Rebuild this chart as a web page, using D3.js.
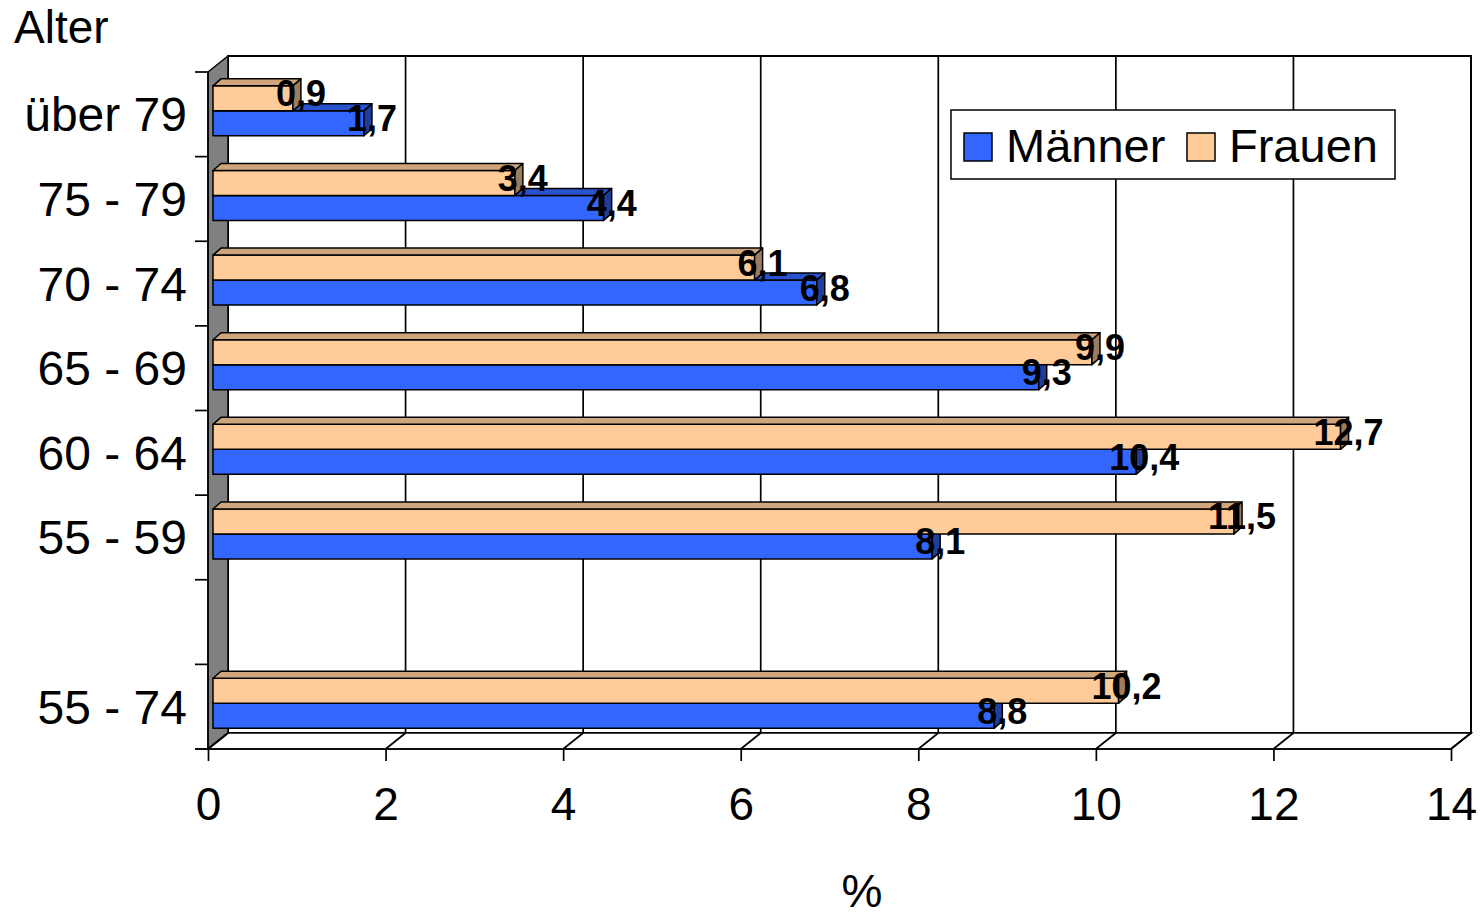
<!DOCTYPE html>
<html>
<head>
<meta charset="utf-8">
<script src="https://cdn.jsdelivr.net/npm/d3@7"></script>
<style>
  body { margin: 0; background: #fff; }
  svg { display: block; font-family: Arial, "Liberation Sans", sans-serif; }
</style>
</head>
<body>
<svg id="chart"></svg>
<script>
// data (top to bottom), empty row is the gap before 55 - 74
const ageGroups = ["über 79", "75 - 79", "70 - 74", "65 - 69", "60 - 64", "55 - 59", "", "55 - 74"];
const maenner = [1.7, 4.4, 6.8, 9.3, 10.4, 8.1, null, 8.8];
const frauen = [0.9, 3.4, 6.1, 9.9, 12.7, 11.5, null, 10.2];
const xTicks = [0, 2, 4, 6, 8, 10, 12, 14];
const seriesNames = ["Männer", "Frauen"];
const seriesColors = ["#3366ff", "#ffcc99"];

class Bar3D {
  constructor(_config) {
    this.config = {
      parentElement: _config.parentElement,
      containerWidth: _config.containerWidth || 1483,
      containerHeight: _config.containerHeight || 916,
      plot: { left: 208, right: 1451, top: 72, bottom: 749 },
      depth: { dx: 20, dy: -16 },       // wall depth
      barShift: { dx: 5, dy: -3.5 },    // front face of bars
      barDepth: { dx: 8, dy: -7 }
    };
    this.initVis();
  }

  initVis() {
    let vis = this;
    const c = vis.config;

    vis.svg = d3.select(c.parentElement)
      .attr('width', c.containerWidth)
      .attr('height', c.containerHeight);

    vis.xScale = d3.scaleLinear()
      .domain([0, 14])
      .range([c.plot.left, c.plot.right]);

    vis.yScale = d3.scaleBand()
      .domain(d3.range(ageGroups.length))
      .range([c.plot.top, c.plot.bottom])
      .paddingInner(0.41)
      .paddingOuter(0.205);

    vis.ySub = d3.scaleBand()
      .domain(["Frauen", "Männer"])
      .range([0, vis.yScale.bandwidth()]);

    vis.color = d3.scaleOrdinal().domain(seriesNames).range(seriesColors);

    vis.updateVis();
  }

  updateVis() {
    let vis = this;
    const c = vis.config;
    const D = c.depth;
    const pts = a => a.map(p => p.join(',')).join(' ');
    const x0 = c.plot.left, x1 = c.plot.right, yT = c.plot.top, yB = c.plot.bottom;

    // back wall
    vis.svg.append('rect')
      .attr('x', x0 + D.dx)
      .attr('y', yT + D.dy)
      .attr('width', x1 - x0)
      .attr('height', yB - yT)
      .attr('fill', '#fff')
      .attr('stroke', '#000')
      .attr('stroke-width', 2);

    // grid lines on back wall
    vis.svg.append('g')
      .selectAll('line')
      .data(xTicks.filter(d => d > 0 && d < 14))
      .join('line')
      .attr('x1', d => vis.xScale(d) + D.dx)
      .attr('x2', d => vis.xScale(d) + D.dx)
      .attr('y1', yT + D.dy)
      .attr('y2', yB + D.dy)
      .attr('stroke', '#000')
      .attr('stroke-width', 1.7);

    // left wall
    vis.svg.append('polygon')
      .attr('points', pts([[x0, yT], [x0 + D.dx, yT + D.dy], [x0 + D.dx, yB + D.dy], [x0, yB]]))
      .attr('fill', '#808080')
      .attr('stroke', '#000')
      .attr('stroke-width', 1.5);

    // floor
    vis.svg.append('polygon')
      .attr('points', pts([[x0, yB], [x0 + D.dx, yB + D.dy], [x1 + D.dx, yB + D.dy], [x1, yB]]))
      .attr('fill', '#fff')
      .attr('stroke', '#000')
      .attr('stroke-width', 1.7);

    vis.svg.append('g')
      .selectAll('line')
      .data(xTicks)
      .join('line')
      .attr('x1', d => vis.xScale(d))
      .attr('y1', yB)
      .attr('x2', d => vis.xScale(d) + D.dx)
      .attr('y2', yB + D.dy)
      .attr('stroke', '#000')
      .attr('stroke-width', 1.7);

    // x axis
    vis.xAxis = d3.axisBottom(vis.xScale)
      .tickValues(xTicks)
      .tickSize(12)
      .tickSizeOuter(0)
      .tickPadding(26)
      .tickFormat(d3.format('d'));

    vis.xAxisGroup = vis.svg.append('g')
      .attr('class', 'axis x-axis')
      .attr('transform', `translate(0,${yB})`)
      .call(vis.xAxis);
    vis.xAxisGroup.select('.domain').remove();
    vis.xAxisGroup.selectAll('line').attr('stroke', '#000').attr('stroke-width', 1.7);
    vis.xAxisGroup.selectAll('text')
      .attr('fill', '#000')
      .style('font-family', 'Arial, "Liberation Sans", sans-serif')
      .style('font-size', '46px');

    vis.svg.append('line')
      .attr('x1', x0 - 13).attr('x2', x1)
      .attr('y1', yB).attr('y2', yB)
      .attr('stroke', '#000').attr('stroke-width', 1.7);

    // y ticks at band boundaries, labels at band centres
    const step = vis.yScale.step();
    vis.svg.append('g')
      .selectAll('line')
      .data(d3.range(ageGroups.length + 1))
      .join('line')
      .attr('x1', x0 - 13).attr('x2', x0)
      .attr('y1', i => yT + i * step)
      .attr('y2', i => yT + i * step)
      .attr('stroke', '#000')
      .attr('stroke-width', 1.7);

    vis.svg.append('line')
      .attr('x1', x0).attr('x2', x0)
      .attr('y1', yT).attr('y2', yB)
      .attr('stroke', '#000').attr('stroke-width', 1.5);

    vis.svg.append('g')
      .selectAll('text')
      .data(ageGroups)
      .join('text')
      .attr('x', 187)
      .attr('y', (d, i) => yT + (i + 0.5) * step + 17)
      .attr('text-anchor', 'end')
      .attr('font-size', '48px')
      .text(d => d);

    // bars: Männer first so Frauen covers its top face
    const bars = [];
    ageGroups.forEach((g, i) => {
      if (maenner[i] != null) bars.push({ i, s: "Männer", v: maenner[i] });
      if (frauen[i] != null) bars.push({ i, s: "Frauen", v: frauen[i] });
    });
    bars.forEach(b => {
      b.xa = vis.xScale(0) + c.barShift.dx;
      b.xb = vis.xScale(b.v) + c.barShift.dx;
      b.yt = vis.yScale(b.i) + vis.ySub(b.s) + c.barShift.dy;
      b.yb = b.yt + vis.ySub.bandwidth();
    });

    const B = c.barDepth;
    const shade = (col, k) => d3.rgb(col).darker(k).formatHex();

    vis.barGroups = vis.svg.append('g')
      .selectAll('g')
      .data(bars)
      .join('g')
      .attr('stroke', '#000')
      .attr('stroke-width', 1.5)
      .attr('stroke-linejoin', 'round');

    vis.barGroups.append('rect')
      .attr('x', d => d.xa)
      .attr('y', d => d.yt)
      .attr('width', d => d.xb - d.xa)
      .attr('height', d => d.yb - d.yt)
      .attr('fill', d => vis.color(d.s));

    vis.barGroups.append('polygon')
      .attr('points', d => pts([[d.xa, d.yt], [d.xa + B.dx, d.yt + B.dy], [d.xb + B.dx, d.yt + B.dy], [d.xb, d.yt]]))
      .attr('fill', d => shade(vis.color(d.s), 0.6));

    vis.barGroups.append('polygon')
      .attr('points', d => pts([[d.xb, d.yt], [d.xb + B.dx, d.yt + B.dy], [d.xb + B.dx, d.yb + B.dy], [d.xb, d.yb]]))
      .attr('fill', d => shade(vis.color(d.s), 1.4));

    // value labels
    vis.svg.append('g')
      .selectAll('text')
      .data(bars)
      .join('text')
      .attr('x', d => d.xb + B.dx)
      .attr('y', d => (d.yt + d.yb) / 2 + 8)
      .attr('text-anchor', 'middle')
      .attr('font-size', '36px')
      .attr('font-weight', 'bold')
      .text(d => String(d.v).replace('.', ','));

    // legend
    const legend = vis.svg.append('g');
    legend.append('rect')
      .attr('x', 951).attr('y', 110)
      .attr('width', 444).attr('height', 69)
      .attr('fill', '#fff')
      .attr('stroke', '#000')
      .attr('stroke-width', 1.5);

    const items = legend.selectAll('g')
      .data(seriesNames)
      .join('g')
      .attr('transform', (d, i) => `translate(${i === 0 ? 964 : 1187},133)`);
    items.append('rect')
      .attr('width', 28).attr('height', 28)
      .attr('fill', d => vis.color(d))
      .attr('stroke', '#000')
      .attr('stroke-width', 1.5);
    items.append('text')
      .attr('x', 42).attr('y', 29)
      .attr('font-size', '47px')
      .text(d => d);

    // axis titles
    vis.svg.append('text')
      .attr('x', 14).attr('y', 43)
      .attr('font-size', '46px')
      .text('Alter');

    vis.svg.append('text')
      .attr('x', 862).attr('y', 907)
      .attr('text-anchor', 'middle')
      .attr('font-size', '46px')
      .text('%');
  }
}

new Bar3D({ parentElement: '#chart' });
</script>
</body>
</html>
